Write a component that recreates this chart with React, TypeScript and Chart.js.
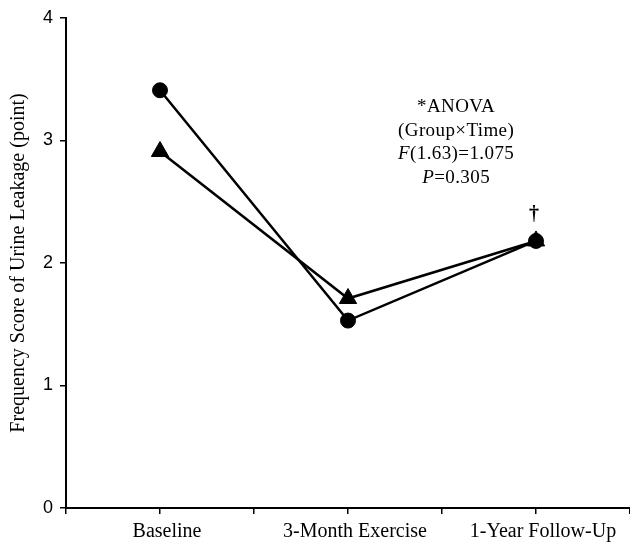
import React, { useEffect, useRef } from 'react';
import { Chart, registerables } from 'chart.js';

Chart.register(...registerables);

const categories = ['Baseline', '3-Month Exercise', '1-Year Follow-Up'];
const categoryPositions = [1, 3, 5];
const circleValues = [3.41, 1.53, 2.18];
const triangleValues = [2.91, 1.71, 2.18];
const yTickValues = [0, 1, 2, 3, 4];
const yAxisTitle = 'Frequency Score of Urine Leakage (point)';
const annotationLines = [
  [{ t: '*ANOVA', i: false }],
  [{ t: '(Group\u00D7Time)', i: false }],
  [{ t: 'F', i: true }, { t: '(1.63)=1.075', i: false }],
  [{ t: 'P', i: true }, { t: '=0.305', i: false }],
];
const markLabel = '\u2020';

const SERIF = '"Liberation Serif", "Times New Roman", serif';
const SANS = '"Liberation Sans", Arial, sans-serif';

const annotationPlugin = {
  id: 'annotationText',
  afterDraw(chart: any) {
    const { ctx, scales } = chart;
    const xs = scales.x;
    const ys = scales.y;
    const cx = xs.getPixelForValue(4.15);
    const top = ys.getPixelForValue(3.27);
    const lh = 23.5;
    ctx.save();
    ctx.fillStyle = '#000';
    ctx.textBaseline = 'middle';
    (ctx as any).letterSpacing = '0.4px';
    annotationLines.forEach((segs, li) => {
      const fonts = segs.map((s) => (s.i ? 'italic ' : '') + '19px ' + SERIF);
      let total = 0;
      const widths = segs.map((s, k) => {
        ctx.font = fonts[k];
        const w = ctx.measureText(s.t).width;
        total += w;
        return w;
      });
      let x = cx - total / 2;
      const y = top + li * lh;
      segs.forEach((s, k) => {
        ctx.font = fonts[k];
        ctx.textAlign = 'left';
        ctx.fillText(s.t, x, y);
        x += widths[k];
      });
    });
    const meta = chart.getDatasetMeta(0);
    const last = meta.data[meta.data.length - 1];
    if (last) {
      ctx.font = 'bold 20px ' + SERIF;
      (ctx as any).letterSpacing = '0px';
      ctx.textAlign = 'center';
      ctx.fillText(markLabel, last.x - 2, last.y - 26);
    }
    ctx.restore();
  },
};

export default function App() {
  const ref = useRef<HTMLCanvasElement | null>(null);
  useEffect(() => {
    if (!ref.current) return;
    const chart = new Chart(ref.current, {
      type: 'line',
      data: {
        datasets: [
          {
            label: 'Group A',
            data: categoryPositions.map((x, i) => ({ x, y: circleValues[i] })),
            borderColor: '#000',
            backgroundColor: '#000',
            borderWidth: 2.5,
            pointStyle: 'circle',
            pointRadius: 7.5,
            pointBorderWidth: 1,
            tension: 0,
          },
          {
            label: 'Group B',
            data: categoryPositions.map((x, i) => ({ x, y: triangleValues[i] })),
            borderColor: '#000',
            backgroundColor: '#000',
            borderWidth: 2.5,
            pointStyle: 'triangle',
            pointRadius: 10,
            pointBorderWidth: 1,
            tension: 0,
          },
        ],
      },
      options: {
        responsive: false,
        animation: false,
        layout: { autoPadding: false, padding: { left: 0, right: 0, top: 18, bottom: 0 } },
        plugins: { legend: { display: false }, tooltip: { enabled: false } },
        scales: {
          x: {
            type: 'linear',
            min: 0,
            max: 6,
            afterFit: (s: any) => {
              s.height = 37;
              s.paddingRight = 0;
              s.paddingLeft = 0;
            },
            afterBuildTicks: (s: any) => {
              s.ticks = [0, 1, 2, 3, 4, 5, 6].map((v) => ({ value: v }));
            },
            ticks: {
              autoSkip: false,
              maxRotation: 0,
              minRotation: 0,
              padding: 6,
              labelOffset: 7,
              color: '#000',
              font: { family: SERIF, size: 20 },
              callback: (v: any) => {
                const idx = categoryPositions.indexOf(Number(v));
                return idx >= 0 ? categories[idx] : '';
              },
            },
            grid: { drawOnChartArea: false, drawTicks: true, tickLength: 6, color: '#000', lineWidth: 1.5 },
            border: { color: '#000', width: 2 },
          },
          y: {
            min: 0,
            max: 4,
            afterFit: (s: any) => { s.width = 66; },
            afterBuildTicks: (s: any) => {
              s.ticks = yTickValues.map((v) => ({ value: v }));
            },
            ticks: {
              padding: 7,
              color: '#000',
              font: { family: SANS, size: 18 },
            },
            title: {
              display: true,
              text: yAxisTitle,
              color: '#000',
              font: { family: SERIF, size: 20 },
              padding: { top: 7, bottom: 0 },
            },
            grid: { drawOnChartArea: false, drawTicks: true, tickLength: 6, color: '#000', lineWidth: 1.5 },
            border: { color: '#000', width: 2 },
          },
        },
      },
      plugins: [annotationPlugin],
    } as any);
    return () => chart.destroy();
  }, []);
  return (
    <div style={{ position: 'absolute', left: 0, top: 0, width: 630, height: 545, background: '#fff' }}>
      <canvas ref={ref} width={630} height={545} style={{ display: 'block' }} />
    </div>
  );
}
